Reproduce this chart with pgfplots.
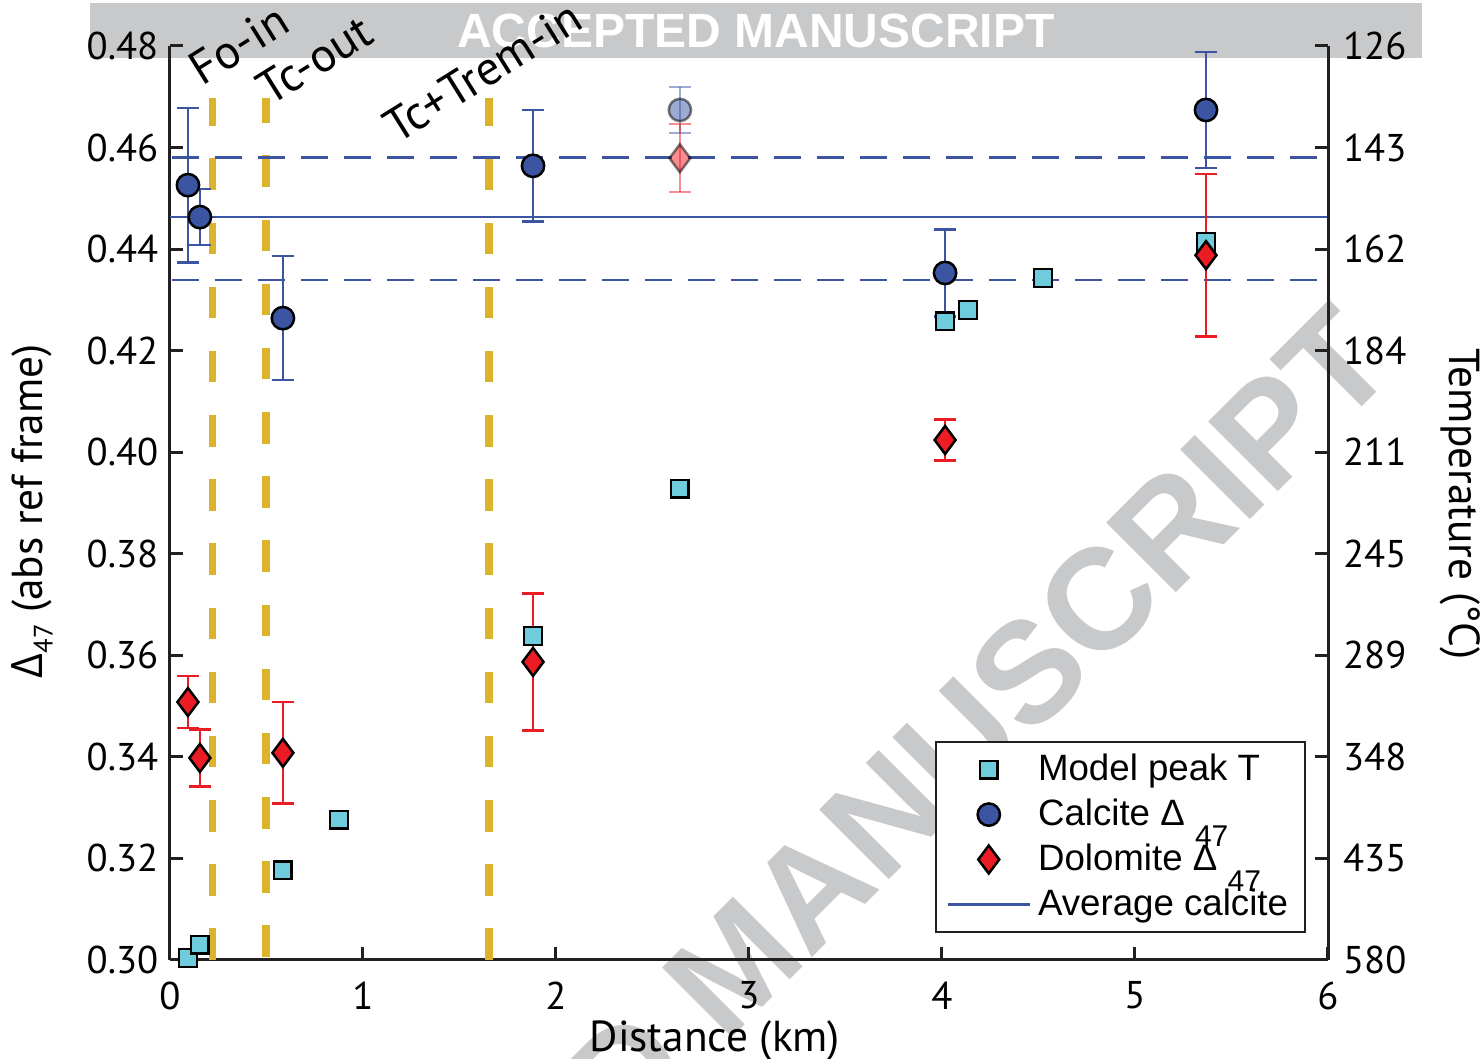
\documentclass[border=0pt]{standalone}
\usepackage{fontspec}
\setmainfont{PT Sans}
\newfontfamily\arialf{Liberation Sans}
\newfontfamily\greekf{Open Sans}
\usepackage{pgfplots}
\pgfplotsset{compat=1.18}
\usepackage{pgfplotstable}

\definecolor{sqfill}{HTML}{6ECCDD}
\definecolor{calblue}{HTML}{3B55A3}
\definecolor{dolred}{HTML}{EC1C24}
\definecolor{gold}{HTML}{DDB32B}
\definecolor{wmgray}{HTML}{C8C9CB}
\definecolor{axisc}{HTML}{231F20}

\pgfplotstableread{
x y
0.093 0.3004
0.155 0.3030
0.585 0.3177
0.876 0.3276
1.881 0.3638
2.642 0.3928
4.016 0.4258
4.135 0.4280
4.523 0.4343
5.368 0.4414
}\modeldata

\pgfplotstableread{
x y e
0.093 0.4526 0.0152
0.155 0.4463 0.0055
0.585 0.4264 0.0122
1.881 0.4564 0.0110
4.016 0.4353 0.0086
5.368 0.4674 0.0114
}\calcite

\pgfplotstableread{
x y e
2.642 0.4674 0.0045
}\calcitefaded

\pgfplotstableread{
x y e
0.093 0.3508 0.0051
0.155 0.3398 0.0056
0.585 0.3408 0.0100
1.881 0.3587 0.0135
4.016 0.4024 0.0040
5.368 0.4388 0.0160
}\dolomite

\pgfplotstableread{
x y e
2.642 0.4579 0.0067
}\dolomitefaded

\begin{document}
\begin{tikzpicture}
\useasboundingbox (-51pt,-29.7pt) rectangle (394.2pt,288pt);
% watermark band
\fill[wmgray] (-24pt,270.6pt) rectangle (375.6pt,287.1pt);
\node[anchor=base, inner sep=0, text=white, font=\fontsize{14.4}{14.4}\arialf\bfseries] at (175.8pt,273.6pt) {ACCEPTED MANUSCRIPT};
% diagonal watermark
\node[rotate=45, anchor=east, inner sep=0, text=wmgray, font=\fontsize{43}{43}\arialf\bfseries] at (359pt,188pt) {ACCEPTED MANUSCRIPT};

\begin{axis}[
  at={(0,0)}, anchor=south west,
  scale only axis, width=347.4pt, height=274.2pt,
  xmin=0, xmax=6, ymin=0.30, ymax=0.48,
  axis x line*=bottom, axis y line*=left,
  axis line style={line width=0.9pt, draw=axisc},
  every tick/.style={line width=0.9pt, axisc},
  tick align=inside, major tick length=4pt,
  xtick={0,1,2,3,4,5,6},
  ytick={0.30,0.32,0.34,0.36,0.38,0.40,0.42,0.44,0.46,0.48},
  yticklabel style={/pgf/number format/.cd, fixed, fixed zerofill, precision=2},
  /pgf/number format/assume math mode=true,
  ticklabel style={font=\fontsize{11.6}{13}\selectfont, text=black},
  xticklabel style={yshift=-3pt},
  xlabel={Distance (km)},
  every axis x label/.style={at={(axis description cs:0.4706,-0.0885)}, anchor=center, font=\fontsize{13}{15}\selectfont},
  ylabel={{\greekf Δ}\raisebox{-0.45ex}{\fontsize{8}{8}\selectfont 47} (abs ref frame)},
  every axis y label/.style={at={(axis description cs:-0.119,0.491)}, anchor=center, rotate=90, font=\fontsize{13}{15}\selectfont},
  clip=false,
  legend cell align=left,
  legend style={at={(axis description cs:0.6606,0.2396)}, anchor=north west, draw=axisc, line width=0.75pt, fill=white, font=\fontsize{11}{12.5}\arialf, inner xsep=3pt, inner ysep=1.5pt},
  legend image code/.code={\draw[mark repeat=2,mark phase=2,#1] plot coordinates {(0cm,0cm) (0.435cm,0cm) (0.87cm,0cm)};},
]
% phase boundaries
\addplot[forget plot, gold, line width=2.2pt, dash pattern=on 9.45pt off 9.8pt] coordinates {(0.221,0.30) (0.221,0.4698)};
\addplot[forget plot, gold, line width=2.2pt, dash pattern=on 9.45pt off 9.8pt] coordinates {(0.497,0.3006) (0.497,0.4698)};
\addplot[forget plot, gold, line width=2.2pt, dash pattern=on 9.45pt off 9.8pt] coordinates {(1.653,0.30) (1.653,0.4698)};

% model
\addplot[only marks, mark=square*, mark size=2.65pt, mark options={fill=sqfill, draw=black, line width=0.75pt}] table[x=x,y=y] {\modeldata};
\addlegendentry{Model peak T}

% average calcite
\addplot[forget plot, calblue, line width=0.8pt] coordinates {(0,0.4463) (6,0.4463)};
\addplot[forget plot, calblue, line width=0.8pt, dash pattern=on 8.1pt off 4.8pt] coordinates {(0.01,0.4581) (6,0.4581)};
\addplot[forget plot, calblue, line width=0.8pt, dash pattern=on 8.1pt off 4.8pt] coordinates {(0.01,0.4339) (6,0.4339)};

% calcite
\addplot[only marks, mark=*, mark size=3.35pt, mark options={fill=calblue, draw=black, line width=0.75pt},
  error bars/.cd, y dir=both, y explicit, error bar style={calblue, line width=0.75pt}, error mark options={rotate=90, calblue, line width=0.75pt, mark size=3.4pt}]
  table[x=x,y=y,y error=e] {\calcite};
\addlegendentry{Calcite {Δ} \raisebox{-1.1ex}{\fontsize{9}{9}\selectfont 47}}
\addplot[forget plot, only marks, opacity=0.5, mark=*, mark size=3.35pt, mark options={fill=calblue, draw=black, line width=0.75pt},
  error bars/.cd, y dir=both, y explicit, error bar style={calblue, line width=0.75pt, opacity=0.5}, error mark options={rotate=90, calblue, line width=0.75pt, mark size=3.4pt, opacity=0.5}]
  table[x=x,y=y,y error=e] {\calcitefaded};

% dolomite
\addplot[only marks, mark=diamond*, mark size=4.2pt, mark options={fill=dolred, draw=black, line width=0.75pt},
  error bars/.cd, y dir=both, y explicit, error bar style={dolred, line width=0.75pt}, error mark options={rotate=90, dolred, line width=0.75pt, mark size=3.4pt}]
  table[x=x,y=y,y error=e] {\dolomite};
\addlegendentry{Dolomite {Δ} \raisebox{-1.1ex}{\fontsize{9}{9}\selectfont 47}}
\addplot[forget plot, only marks, opacity=0.5, mark=diamond*, mark size=4.2pt, mark options={fill=dolred, draw=black, line width=0.75pt},
  error bars/.cd, y dir=both, y explicit, error bar style={dolred, line width=0.75pt, opacity=0.5}, error mark options={rotate=90, dolred, line width=0.75pt, mark size=3.4pt, opacity=0.5}]
  table[x=x,y=y,y error=e] {\dolomitefaded};

\addlegendimage{calblue, line width=0.8pt}
\addlegendentry{Average calcite}

% labels
\node[rotate=32, anchor=base west, inner sep=0, font=\fontsize{14.3}{16}\selectfont] at (axis cs:0.164,0.4720) {Fo-in};
\node[rotate=32, anchor=base west, inner sep=0, font=\fontsize{14.3}{16}\selectfont] at (axis cs:0.520,0.4680) {Tc-out};
\node[rotate=32, anchor=base west, inner sep=0, font=\fontsize{14.3}{16}\selectfont] at (axis cs:1.175,0.4605) {Tc+Trem-in};
\end{axis}

\begin{axis}[
  at={(0,0)}, anchor=south west,
  scale only axis, width=347.4pt, height=274.2pt,
  xmin=0, xmax=6, ymin=0.30, ymax=0.48,
  axis x line=none, axis y line*=right,
  axis line style={line width=0.9pt, draw=axisc},
  every tick/.style={line width=0.9pt, axisc},
  tick align=inside, major tick length=4pt,
  ytick={0.30,0.32,0.34,0.36,0.38,0.40,0.42,0.44,0.46,0.48},
  yticklabels={580,435,348,289,245,211,184,162,143,126},
  ticklabel style={font=\fontsize{11.6}{13}\selectfont, text=black},
  yticklabel style={xshift=1pt},
  ylabel={Temperature (°C)},
  every axis y label/.style={at={(axis description cs:1.114,0.499)}, anchor=center, rotate=-90, font=\fontsize{13}{15}\selectfont},
]
\end{axis}
\end{tikzpicture}
\end{document}
